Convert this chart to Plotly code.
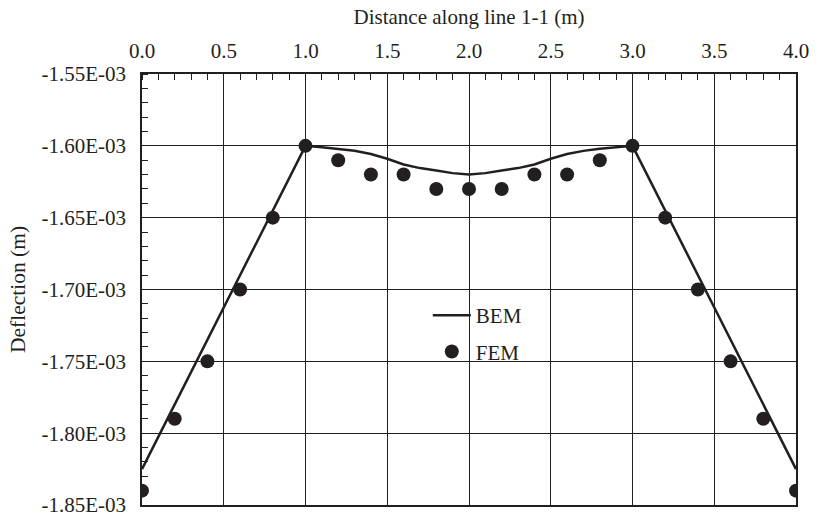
import plotly.graph_objects as go

# BEM curve
bem_x = [0.0, 1.0, 1.1, 1.2, 1.3, 1.4, 1.5, 1.6, 1.7, 1.8, 1.9, 2.0,
         2.1, 2.2, 2.3, 2.4, 2.5, 2.6, 2.7, 2.8, 2.9, 3.0, 4.0]
bem_y = [-1.825e-3, -1.600e-3, -1.601e-3, -1.602e-3, -1.6035e-3, -1.6057e-3, -1.609e-3,
         -1.613e-3, -1.6155e-3, -1.6172e-3, -1.619e-3, -1.620e-3,
         -1.619e-3, -1.6172e-3, -1.6155e-3, -1.613e-3, -1.609e-3, -1.6057e-3,
         -1.6035e-3, -1.602e-3, -1.601e-3, -1.600e-3, -1.825e-3]

# FEM points
fem_x = [0.0, 0.2, 0.4, 0.6, 0.8, 1.0, 1.2, 1.4, 1.6, 1.8, 2.0,
         2.2, 2.4, 2.6, 2.8, 3.0, 3.2, 3.4, 3.6, 3.8, 4.0]
fem_y = [-1.84e-3, -1.79e-3, -1.75e-3, -1.70e-3, -1.65e-3, -1.60e-3, -1.61e-3,
         -1.62e-3, -1.62e-3, -1.63e-3, -1.63e-3, -1.63e-3, -1.62e-3, -1.62e-3,
         -1.61e-3, -1.60e-3, -1.65e-3, -1.70e-3, -1.75e-3, -1.79e-3, -1.84e-3]

x_ticks = [0.0, 0.5, 1.0, 1.5, 2.0, 2.5, 3.0, 3.5, 4.0]
x_ticklabels = ["0.0", "0.5", "1.0", "1.5", "2.0", "2.5", "3.0", "3.5", "4.0"]
y_ticks = [-1.55e-3, -1.60e-3, -1.65e-3, -1.70e-3, -1.75e-3, -1.80e-3, -1.85e-3]
y_ticklabels = ["-1.55E-03", "-1.60E-03", "-1.65E-03", "-1.70E-03",
                "-1.75E-03", "-1.80E-03", "-1.85E-03"]

FONT = "'Liberation Serif', 'Times New Roman', Times, serif"

fig = go.Figure()
fig.add_trace(go.Scatter(x=bem_x, y=bem_y, mode="lines", name="BEM",
                         line=dict(color="#231f20", width=2.5),
                         legendgroup="a"))
fig.add_trace(go.Scatter(x=fem_x, y=fem_y, mode="markers", name="FEM",
                         marker=dict(color="#231f20", size=14),
                         legendgroup="b"))

fig.update_layout(
    width=820, height=528,
    margin=dict(l=142, r=16, t=74, b=11),
    paper_bgcolor="white", plot_bgcolor="white",
    font=dict(family=FONT, size=21, color="#231f20"),
    showlegend=True,
    legend=dict(x=0.437, y=0.487, xanchor="left", yanchor="top",
                bgcolor="rgba(0,0,0,0)", font=dict(size=21),
                tracegroupgap=6, itemwidth=38),
    xaxis=dict(
        side="top", range=[0, 4],
        tickvals=x_ticks, ticktext=x_ticklabels,
        ticks="", showgrid=True, gridcolor="#231f20", gridwidth=1,
        showline=True, linecolor="#231f20", linewidth=1.5, mirror=True,
        zeroline=False,
        minor=dict(dtick=0.1, tick0=0, ticks="inside", ticklen=6,
                   tickcolor="#231f20", tickwidth=1, showgrid=False),
        title=dict(text="Distance along line 1-1 (m)", standoff=8,
                   font=dict(size=21)),
        ticklabelstandoff=6,
    ),
    yaxis=dict(
        range=[-1.85e-3, -1.55e-3],
        tickvals=y_ticks, ticktext=y_ticklabels,
        ticks="", showgrid=True, gridcolor="#231f20", gridwidth=1,
        showline=True, linecolor="#231f20", linewidth=1.5, mirror=True,
        zeroline=False,
        minor=dict(dtick=0.01e-3, tick0=-1.85e-3, ticks="inside", ticklen=6,
                   tickcolor="#231f20", tickwidth=1, showgrid=False),
        title=dict(text="Deflection (m)", standoff=10, font=dict(size=21.5)),
        ticklabelstandoff=10,
    ),
)

fig.write_html("out.html")
